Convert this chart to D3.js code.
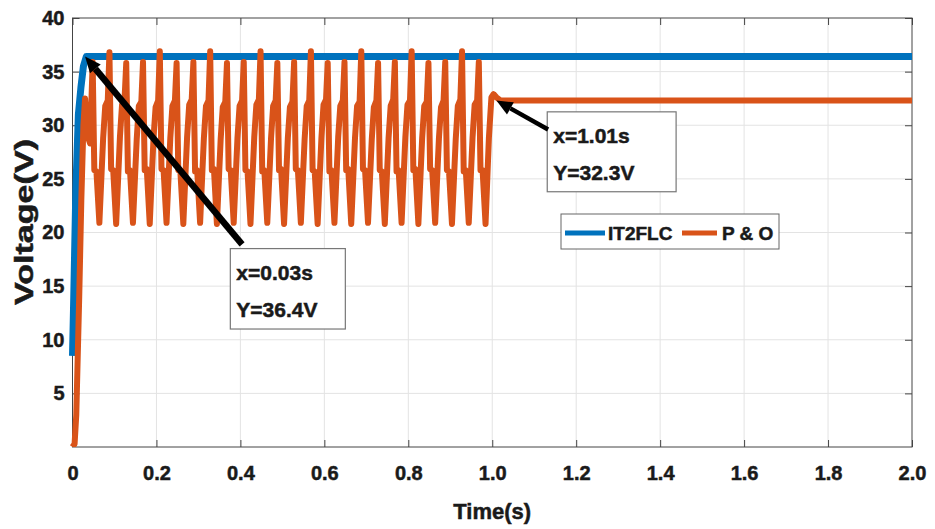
<!DOCTYPE html>
<html>
<head>
<meta charset="utf-8">
<script src="https://cdn.jsdelivr.net/npm/d3@7"></script>
<style>
  body { margin: 0; background: #fff; }
  svg { display: block; }
  text { font-family: "Liberation Sans", Arial, Helvetica, sans-serif; font-weight: bold; fill: #1a1a1a;
         stroke: #1a1a1a; stroke-width: 0.5px; paint-order: stroke; }
</style>
</head>
<body>
<svg id="chart" width="935" height="529"></svg>
<script>
// ---- data ----
const xTickValues = [0, 0.2, 0.4, 0.6, 0.8, 1.0, 1.2, 1.4, 1.6, 1.8, 2.0];
const xTickLabels = ["0", "0.2", "0.4", "0.6", "0.8", "1.0", "1.2", "1.4", "1.6", "1.8", "2.0"];
const yTickValues = [5, 10, 15, 20, 25, 30, 35, 40];
const seriesNames = ["IT2FLC", "P & O"];

// IT2FLC output voltage: [time (s), voltage (V)]
const it2flcSeries = [
  [0.000, 8.5], [0.003, 14.0], [0.008, 24.0], [0.014, 31.0], [0.020, 33.5],
  [0.026, 35.5], [0.033, 36.4], [2.000, 36.4]
];

// P&O output voltage: [time (s), voltage (V)], one oscillation per line
const pAndOSeries = [
  [0.000, 0.0], [0.005, 0.3], [0.009, 3.0], [0.016, 14.0], [0.021, 23.0], [0.026, 30.0], [0.030, 32.5], [0.036, 29.0], [0.042, 28.3],
  [0.048, 35.9], [0.052, 25.8], [0.057, 25.7], [0.064, 20.9], [0.073, 28.8], [0.078, 31.8], [0.084, 32.3],
  [0.088, 36.8], [0.092, 25.9], [0.097, 25.8], [0.104, 20.8], [0.113, 28.9], [0.118, 31.9], [0.124, 32.4],
  [0.128, 35.8], [0.132, 25.7], [0.137, 25.8], [0.144, 20.9], [0.153, 28.7], [0.158, 31.8], [0.164, 32.2],
  [0.168, 35.9], [0.172, 25.8], [0.177, 25.9], [0.184, 20.8], [0.193, 28.8], [0.198, 31.7], [0.204, 32.3],
  [0.208, 36.9], [0.212, 25.9], [0.217, 25.8], [0.224, 20.9], [0.233, 28.8], [0.238, 31.8], [0.244, 32.3],
  [0.248, 35.8], [0.252, 25.8], [0.257, 25.7], [0.264, 20.8], [0.273, 28.9], [0.278, 31.9], [0.284, 32.4],
  [0.288, 35.9], [0.292, 25.7], [0.297, 25.8], [0.304, 20.9], [0.313, 28.8], [0.318, 31.8], [0.324, 32.3],
  [0.328, 36.9], [0.332, 25.8], [0.337, 25.9], [0.344, 20.8], [0.353, 28.7], [0.358, 31.7], [0.364, 32.2],
  [0.368, 35.8], [0.372, 25.9], [0.377, 25.8], [0.384, 20.9], [0.393, 28.8], [0.398, 31.8], [0.404, 32.3],
  [0.408, 35.9], [0.412, 25.8], [0.417, 25.7], [0.424, 20.8], [0.433, 28.9], [0.438, 31.9], [0.444, 32.4],
  [0.448, 36.9], [0.452, 25.7], [0.457, 25.8], [0.464, 20.9], [0.473, 28.8], [0.478, 31.8], [0.484, 32.3],
  [0.488, 35.8], [0.492, 25.8], [0.497, 25.9], [0.504, 20.8], [0.513, 28.8], [0.518, 31.7], [0.524, 32.2],
  [0.528, 35.9], [0.532, 25.9], [0.537, 25.8], [0.544, 20.9], [0.553, 28.7], [0.558, 31.8], [0.564, 32.3],
  [0.568, 36.9], [0.572, 25.8], [0.577, 25.7], [0.584, 20.8], [0.593, 28.8], [0.598, 31.9], [0.604, 32.4],
  [0.608, 35.8], [0.612, 25.7], [0.617, 25.8], [0.624, 20.9], [0.633, 28.9], [0.638, 31.8], [0.644, 32.3],
  [0.648, 35.9], [0.652, 25.8], [0.657, 25.9], [0.664, 20.8], [0.673, 28.8], [0.678, 31.8], [0.684, 32.2],
  [0.688, 36.9], [0.692, 25.9], [0.697, 25.8], [0.704, 20.9], [0.713, 28.7], [0.718, 31.7], [0.724, 32.3],
  [0.728, 35.8], [0.732, 25.8], [0.737, 25.7], [0.744, 20.8], [0.753, 28.8], [0.758, 31.8], [0.764, 32.4],
  [0.768, 35.9], [0.772, 25.7], [0.777, 25.8], [0.784, 20.9], [0.793, 28.9], [0.798, 31.9], [0.804, 32.3],
  [0.808, 36.9], [0.812, 25.8], [0.817, 25.9], [0.824, 20.8], [0.833, 28.8], [0.838, 31.8], [0.844, 32.2],
  [0.848, 35.8], [0.852, 25.9], [0.857, 25.8], [0.864, 20.9], [0.873, 28.8], [0.878, 31.7], [0.884, 32.3],
  [0.888, 35.9], [0.892, 25.8], [0.897, 25.7], [0.904, 20.8], [0.913, 28.7], [0.918, 31.8], [0.924, 32.4],
  [0.928, 36.9], [0.932, 25.7], [0.937, 25.8], [0.944, 20.9], [0.953, 28.8], [0.958, 31.9], [0.964, 32.3],
  [0.968, 35.9], [0.972, 25.8], [0.977, 25.8], [0.984, 20.8], [0.992, 28.8], [0.998, 32.6], [1.003, 32.9],
  [1.010, 32.6], [1.020, 32.3], [2.000, 32.3]
];

// Data tips: point, arrow tail and text box (data units)
const dataTips = [
  { x: 0.03, y: 36.4, tailX: 0.404, tailY: 18.9, boxX0: 0.376, boxX1: 0.650, boxY0: 18.5, boxY1: 11.0,
    lines: ["x=0.03s", "Y=36.4V"], width: 6.5 },
  { x: 1.01, y: 32.3, tailX: 1.133, tailY: 29.6, boxX0: 1.131, boxX1: 1.438, boxY0: 31.25, boxY1: 23.8,
    lines: ["x=1.01s", "Y=32.3V"], width: 4.5 }
];

// ---- layout ----
const svg = d3.select("#chart");
const plot = { left: 72.5, right: 912, top: 18, bottom: 447 };
const x = d3.scaleLinear().domain([0, 2]).range([plot.left, plot.right]);
const y = d3.scaleLinear().domain([0, 40]).range([plot.bottom, plot.top]);
const colors = ["#0072BD", "#D95319"];

// grid
const grid = svg.append("g");
grid.selectAll("line.v").data(xTickValues.slice(1, -1)).join("line")
  .attr("x1", d => x(d)).attr("x2", d => x(d))
  .attr("y1", plot.top).attr("y2", plot.bottom)
  .attr("stroke", "#e3e3e3").attr("stroke-width", 1);
grid.selectAll("line.h").data(yTickValues.slice(0, -1)).join("line")
  .attr("x1", plot.left).attr("x2", plot.right)
  .attr("y1", d => y(d)).attr("y2", d => y(d))
  .attr("stroke", "#e3e3e3").attr("stroke-width", 1);

// axes (inward ticks, labels)
const xAxis = d3.axisBottom(x).tickValues(xTickValues).tickSizeInner(-7).tickSizeOuter(0)
  .tickPadding(19).tickFormat((d, i) => xTickLabels[i]);
const gx = svg.append("g").attr("transform", `translate(0,${plot.bottom})`).call(xAxis);
const yAxis = d3.axisLeft(y).tickValues(yTickValues).tickSizeInner(-7).tickSizeOuter(0).tickPadding(8);
const gy = svg.append("g").attr("transform", `translate(${plot.left},0)`).call(yAxis);
[gx, gy].forEach(g => {
  g.select(".domain").remove();
  g.selectAll(".tick line").attr("stroke", "#444");
  g.selectAll(".tick text").style("font-size", "20px").attr("fill", "#1a1a1a");
});
// mirrored ticks on top and right
const gTop = svg.append("g").attr("transform", `translate(0,${plot.top})`)
  .call(d3.axisTop(x).tickValues(xTickValues).tickSizeInner(-7).tickSizeOuter(0).tickFormat(""));
const gRight = svg.append("g").attr("transform", `translate(${plot.right},0)`)
  .call(d3.axisRight(y).tickValues(yTickValues).tickSizeInner(-7).tickSizeOuter(0).tickFormat(""));
[gTop, gRight].forEach(g => {
  g.select(".domain").remove();
  g.selectAll(".tick line").attr("stroke", "#444");
});

// box frame
svg.append("rect")
  .attr("x", plot.left).attr("y", plot.top)
  .attr("width", plot.right - plot.left).attr("height", plot.bottom - plot.top)
  .attr("fill", "none").attr("stroke", "#444").attr("stroke-width", 1);

// series
const line = d3.line().x(d => x(d[0])).y(d => y(d[1]));
svg.append("clipPath").attr("id", "plotClip").append("rect")
  .attr("x", plot.left - 4).attr("y", plot.top - 6)
  .attr("width", plot.right - plot.left + 4).attr("height", plot.bottom - plot.top + 6);
const series = svg.append("g").attr("clip-path", "url(#plotClip)");
series.append("path").datum(it2flcSeries).attr("d", line)
  .attr("fill", "none").attr("stroke", colors[0]).attr("stroke-width", 7)
  .attr("stroke-linejoin", "round");
series.append("path").datum(pAndOSeries).attr("d", line)
  .attr("fill", "none").attr("stroke", colors[1]).attr("stroke-width", 6)
  .attr("stroke-linejoin", "round");

// data tips
dataTips.forEach(t => {
  const bx0 = x(t.boxX0), bx1 = x(t.boxX1), by0 = y(t.boxY0), by1 = y(t.boxY1);
  const g = svg.append("g");
  g.append("rect").attr("x", bx0).attr("y", by0).attr("width", bx1 - bx0).attr("height", by1 - by0)
    .attr("fill", "#fff").attr("stroke", "#777").attr("stroke-width", 1.2);
  t.lines.forEach((s, i) => {
    g.append("text").attr("x", bx0 + 6).attr("y", by0 + 31 + i * 37)
      .style("font-size", "21px").text(s);
  });
  const px = x(t.x), py = y(t.y), qx = x(t.tailX), qy = y(t.tailY);
  const ang = Math.atan2(py - qy, px - qx);
  const headLen = 16, headW = 7;
  const hx = px - headLen * Math.cos(ang), hy = py - headLen * Math.sin(ang);
  g.append("line").attr("x1", qx).attr("y1", qy).attr("x2", hx).attr("y2", hy)
    .attr("stroke", "#000").attr("stroke-width", t.width);
  const nx = -Math.sin(ang), ny = Math.cos(ang);
  g.append("polygon")
    .attr("points", [[px, py], [hx + nx * headW, hy + ny * headW], [hx - nx * headW, hy - ny * headW]]
      .map(p => p.join(",")).join(" "))
    .attr("fill", "#000");
});

// legend
const lg = svg.append("g").attr("transform", "translate(561,214)");
lg.append("rect").attr("width", 218).attr("height", 35)
  .attr("fill", "#fff").attr("stroke", "#666").attr("stroke-width", 1);
const legendItems = [{ x0: 4, x1: 44, tx: 47 }, { x0: 121, x1: 156, tx: 161 }];
seriesNames.forEach((name, i) => {
  const it = legendItems[i];
  lg.append("line").attr("x1", it.x0).attr("x2", it.x1).attr("y1", 19).attr("y2", 19)
    .attr("stroke", colors[i]).attr("stroke-width", 5);
  lg.append("text").attr("x", it.tx).attr("y", 25.5).style("font-size", "19px").text(name);
});

// axis titles
svg.append("text").attr("x", (plot.left + plot.right) / 2).attr("y", 519)
  .attr("text-anchor", "middle").style("font-size", "22px").text("Time(s)");
svg.append("text")
  .attr("transform", `translate(33,222) rotate(-90)`)
  .attr("text-anchor", "middle").attr("textLength", 166).attr("lengthAdjust", "spacingAndGlyphs")
  .style("font-size", "26px").text("Voltage(V)");
</script>
</body>
</html>
